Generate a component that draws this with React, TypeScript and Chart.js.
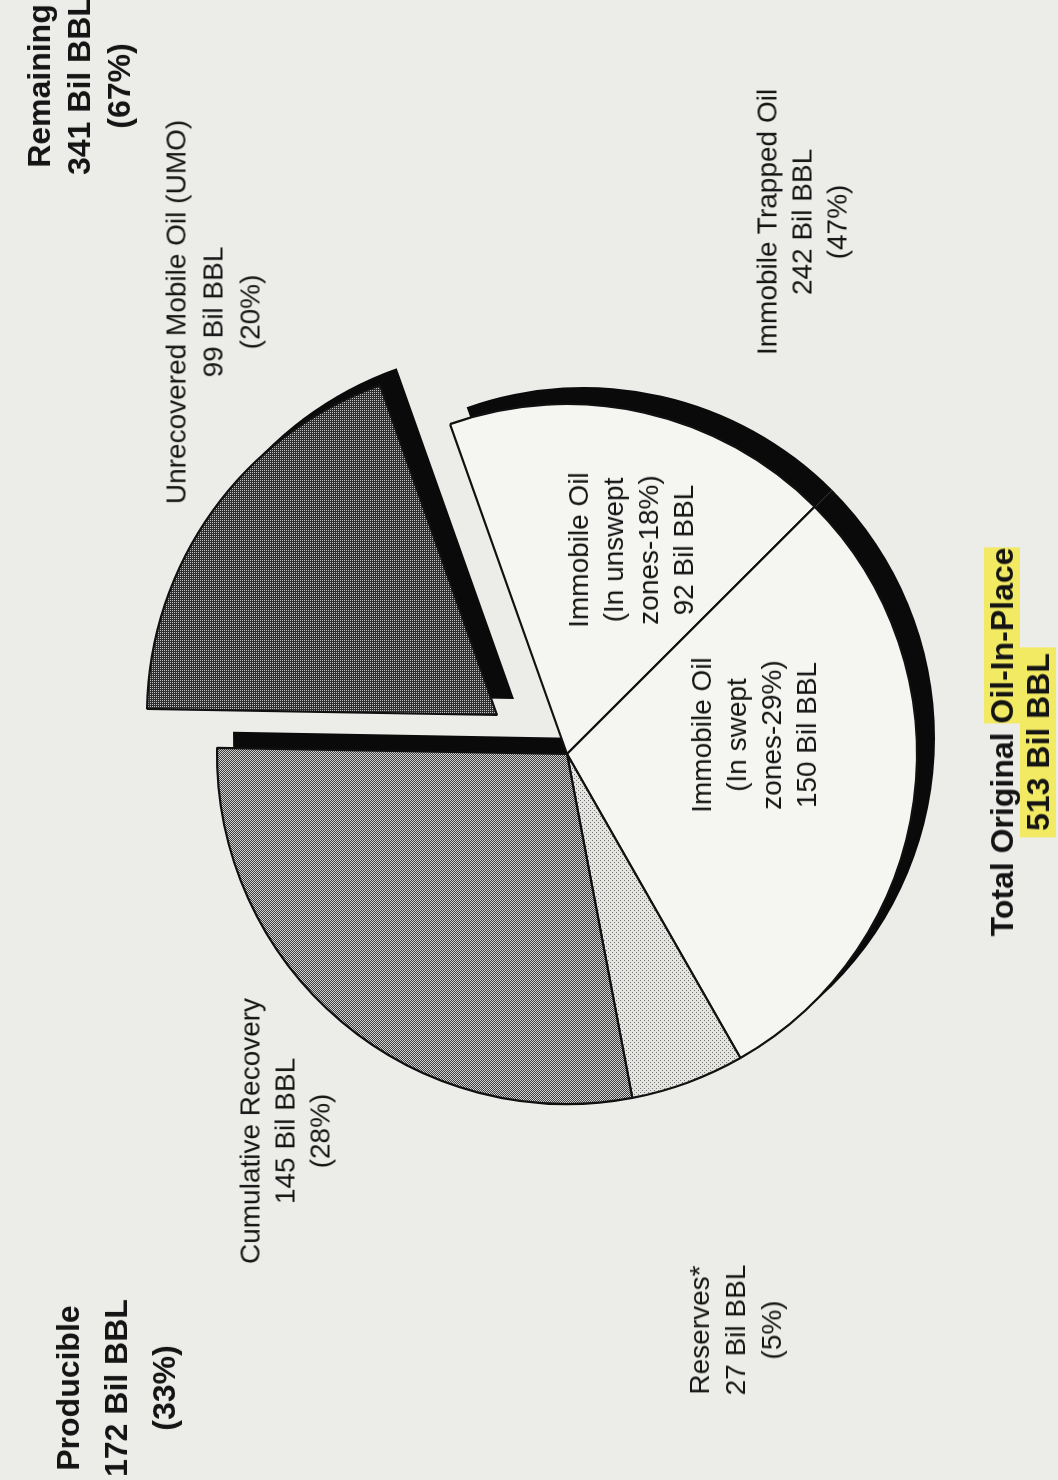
import React, { useEffect, useRef } from "react";
import { Chart, registerables } from "chart.js";

Chart.register(...registerables);

// ---------- data ----------
const categories = [
  "Unrecovered Mobile Oil (UMO)",
  "Immobile Oil (In unswept zones)",
  "Immobile Oil (In swept zones)",
  "Reserves*",
  "Cumulative Recovery",
];
const valuesBilBbl = [99, 92, 150, 27, 145];
const percents = [20, 18, 29, 5, 28];
const explodedIndex = 0;

const producibleTotal = 172;
const produciblePct = 33;
const remainingTotal = 341;
const remainingPct = 67;
const trappedTotal = 242;
const trappedPct = 47;
const grandTotal = 513;

// ---------- layout / style ----------
const PAGE_W = 1058;
const PAGE_H = 1480;
const CENTER_X = 567;
const CENTER_Y = 754;
const RADIUS = 350;
const SHADOW = { dx: 17, dy: -16, grow: 1 };
const EXPLODE = { dx: -70, dy: -39 };
const PAPER = "#ecece9";
const INK = "#141414";
const FONT = '"Liberation Sans", Arial, Helvetica, sans-serif';

type LabelProps = {
  x: number;
  y: number;
  lines: React.ReactNode[];
  bold?: boolean;
  size: number;
  lh: number;
};

function Label({ x, y, lines, bold, size, lh }: LabelProps) {
  return (
    <div
      style={{
        position: "absolute",
        left: x,
        top: y,
        transform: "translate(-50%, -50%) rotate(-90deg)",
        whiteSpace: "nowrap",
        textAlign: "center",
        fontFamily: FONT,
        fontSize: size,
        fontWeight: bold ? 700 : 400,
        lineHeight: lh + "px",
        color: INK,
      }}
    >
      {lines.map((l, i) => (
        <div key={i}>{l}</div>
      ))}
    </div>
  );
}

export default function App() {
  const ref = useRef<HTMLCanvasElement>(null);

  useEffect(() => {
    const canvas = ref.current;
    if (!canvas) return;
    const ctx = canvas.getContext("2d")!;

    const pattern = (bg: string, fg: string, pts: number[][], size: number) => {
      const c = document.createElement("canvas");
      c.width = size;
      c.height = size;
      const g = c.getContext("2d")!;
      g.fillStyle = bg;
      g.fillRect(0, 0, size, size);
      g.fillStyle = fg;
      pts.forEach(([px, py]) => g.fillRect(px, py, 1, 1));
      return ctx.createPattern(c, "repeat")!;
    };

    const fills: (string | CanvasPattern)[] = [
      pattern("#2e2e2e", "#c4c4c4", [[0, 0], [2, 2], [0, 2], [2, 0]], 4),
      "#f5f5f2",
      "#f5f5f2",
      pattern("#e4e4e1", "#707070", [[0, 0], [2, 2]], 4),
      pattern("#3c3c3c", "#d4d4d4", [[0, 0], [1, 1]], 2),
    ];

    const explodePlugin = {
      id: "explodeSlice",
      afterDatasetUpdate(chart: any, args: any) {
        const meta = chart.getDatasetMeta(args.index);
        const el = meta.data[explodedIndex];
        if (el) {
          el.x += EXPLODE.dx;
          el.y += EXPLODE.dy;
        }
      },
    };

    const shadowPlugin = {
      id: "sliceShadow",
      beforeDatasetsDraw(chart: any) {
        const c = chart.ctx;
        const meta = chart.getDatasetMeta(0);
        c.save();
        c.fillStyle = "#0a0a0a";
        meta.data.forEach((el: any) => {
          const { x, y, startAngle, endAngle, outerRadius } = el.getProps([
            "x",
            "y",
            "startAngle",
            "endAngle",
            "outerRadius",
          ]);
          c.beginPath();
          c.moveTo(x + SHADOW.dx, y + SHADOW.dy);
          c.arc(x + SHADOW.dx, y + SHADOW.dy, outerRadius + SHADOW.grow, startAngle, endAngle);
          c.closePath();
          c.fill();
        });
        c.restore();
      },
    };

    const chart = new Chart(canvas, {
      type: "pie",
      data: {
        labels: categories,
        datasets: [
          {
            data: valuesBilBbl,
            backgroundColor: fills as any,
            borderColor: "#111111",
            borderWidth: 2.2,
            radius: RADIUS,
            rotation: -89,
          } as any,
        ],
      },
      options: {
        responsive: false,
        animation: false,
        events: [],
        layout: {
          padding: {
            left: 2 * CENTER_X - PAGE_W,
            right: 0,
            top: 2 * CENTER_Y - PAGE_H,
            bottom: 0,
          },
        },
        plugins: {
          legend: { display: false },
          tooltip: { enabled: false },
        },
      } as any,
      plugins: [explodePlugin, shadowPlugin],
    });

    return () => chart.destroy();
  }, []);

  const bil = (v: number) => `${v} Bil BBL`;
  const pct = (p: number) => `(${p}%)`;
  const hl = { background: "#f1ea62", padding: "0 6px" };

  return (
    <div
      style={{
        position: "absolute",
        left: 0,
        top: 0,
        width: PAGE_W,
        height: PAGE_H,
        background: PAPER,
        overflow: "hidden",
      }}
    >
      <canvas
        ref={ref}
        width={PAGE_W}
        height={PAGE_H}
        style={{ position: "absolute", left: 0, top: 0, display: "block" }}
      />
      <Label x={79} y={86} bold size={32} lh={40} lines={["Remaining", bil(remainingTotal), pct(remainingPct)]} />
      <Label x={116} y={1388} bold size={32} lh={48} lines={["Producible", bil(producibleTotal), pct(produciblePct)]} />
      <Label x={213} y={312} size={28} lh={37} lines={[categories[0], bil(valuesBilBbl[0]), pct(percents[0])]} />
      <Label x={802} y={222} size={28} lh={35} lines={["Immobile Trapped Oil", bil(trappedTotal), pct(trappedPct)]} />
      <Label x={285} y={1131} size={28} lh={35} lines={[categories[4], bil(valuesBilBbl[4]), pct(percents[4])]} />
      <Label x={736} y={1330} size={28} lh={36} lines={[categories[3], bil(valuesBilBbl[3]), pct(percents[3])]} />
      <Label
        x={631}
        y={550}
        size={28}
        lh={35}
        lines={["Immobile Oil", "(In unswept", `zones-${percents[1]}%)`, bil(valuesBilBbl[1])]}
      />
      <Label
        x={754}
        y={735}
        size={28}
        lh={35}
        lines={["Immobile Oil", "(In swept", `zones-${percents[2]}%)`, bil(valuesBilBbl[2])]}
      />
      <Label
        x={1020}
        y={742}
        bold
        size={32}
        lh={36}
        lines={[
          <span>
            Total Original <span style={{ background: "#f1ea62" }}>Oil-In-Place</span>
          </span>,
          <span style={hl}>{bil(grandTotal)}</span>,
        ]}
      />
    </div>
  );
}
